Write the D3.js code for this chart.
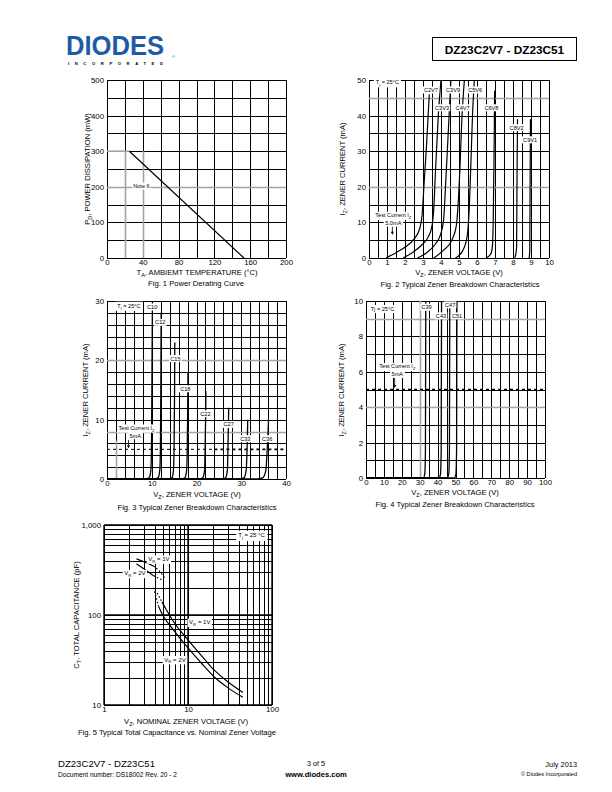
<!DOCTYPE html>
<html><head><meta charset="utf-8">
<script src="https://cdn.jsdelivr.net/npm/d3@7"></script>
<style>
body{margin:0;background:#fff}
svg{display:block}
text{font-family:"Liberation Sans",Arial,Helvetica,sans-serif;fill:#000}
</style>
</head><body>
<svg id="c" width="612" height="792"></svg>
<script>
// ---------------- DATA ----------------
// Fig 1
const fig1TempTicks = [0, 40, 80, 120, 160, 200];
const fig1PowerTicks = [0, 100, 200, 300, 400, 500];
const fig1FlatTemp = [0, 25];
const fig1FlatPower = [300, 300];
const fig1DerateTemp = [25, 153];
const fig1DeratePower = [300, 0];

// Fig 2
const fig2VTicks = [0,1,2,3,4,5,6,7,8,9,10];
const fig2ITicks = [0,10,20,30,40,50];
const fig2Names = ['C2V7','C3V3','C3V9','C4V7','C5V6','C6V8','C8V2','C9V1'];
const fig2Voltage = [
  [0.95, 1.5, 2.0, 2.5, 2.8, 2.95, 3.05, 3.2, 3.35],
  [1.9, 2.4, 2.9, 3.3, 3.5, 3.6, 3.7, 3.85, 4.0],
  [2.7, 3.2, 3.7, 4.0, 4.15, 4.25, 4.4, 4.55],
  [3.6, 4.1, 4.6, 4.85, 4.95, 5.05, 5.15, 5.3],
  [4.8, 5.2, 5.45, 5.55, 5.65, 5.75, 5.85],
  [6.5, 6.75, 6.85, 6.9, 6.95, 6.98],
  [8.1, 8.15, 8.2, 8.22, 8.25],
  [8.9, 8.93, 8.95, 8.97]
];
const fig2Current = [
  [0, 1.5, 3, 5.3, 8, 12, 20, 32, 46],
  [0, 1.5, 3.5, 6, 9, 14, 25, 40, 50],
  [0, 1.5, 4, 7, 11, 20, 35, 50],
  [0, 2, 5, 9, 15, 25, 38, 50],
  [0, 2, 6, 12, 25, 40, 50],
  [0, 1, 3, 10, 30, 47],
  [0, 1, 3, 20, 39],
  [0, 2, 20, 39]
];
const fig2LabelV = [3.44, 4.06, 4.67, 5.2, 5.9, 6.8, 8.2, 8.95];
const fig2LabelI = [47.2, 42.2, 47.2, 42.2, 47.2, 42.2, 36.6, 33.2];

// Fig 3
const fig3VTicks = [0, 10, 20, 30, 40];
const fig3ITicks = [0, 10, 20, 30];
const fig3Names = ['C10','C12','C15','C18','C22','C27','C33','C36'];
const fig3Voltage = [
  [0, 8.6, 9.4, 9.8, 9.95, 10.05, 10.15],
  [0, 10.6, 11.4, 11.8, 11.95, 12.05, 12.1],
  [0, 13.7, 14.5, 14.85, 15.0, 15.1, 15.15],
  [0, 16.6, 17.4, 17.8, 17.95, 18.05, 18.1],
  [0, 20.6, 21.4, 21.8, 21.95, 22.05, 22.1],
  [0, 25.7, 26.5, 26.9, 27.05, 27.15, 27.2],
  [0, 29.6, 30.6, 31.1, 31.3, 31.4, 31.45],
  [0, 33.6, 34.8, 35.5, 35.8, 36.0, 36.1]
];
const fig3Current = [
  [0, 0, 0.2, 1.5, 6, 18, 30],
  [0, 0, 0.2, 1.5, 6, 18, 28],
  [0, 0, 0.2, 1.5, 6, 15, 23],
  [0, 0, 0.2, 1.5, 6, 13, 18],
  [0, 0, 0.2, 1.5, 6, 11, 14.8],
  [0, 0, 0.2, 1.5, 6, 10, 12],
  [0, 0, 0.2, 1.5, 5, 8, 10],
  [0, 0, 0.2, 1.5, 5, 8, 10]
];
const fig3LabelV = [10.1, 11.9, 15.3, 17.5, 22.0, 27.2, 30.9, 35.8];
const fig3LabelI = [29.0, 26.4, 20.3, 15.2, 11.0, 9.2, 6.8, 6.8];

// Fig 4
const fig4VTicks = [0,10,20,30,40,50,60,70,80,90,100];
const fig4ITicks = [0,2,4,6,8,10];
const fig4Names = ['C39','C43','C47','C51'];
const fig4Voltage = [
  [0, 32.0, 32.8, 33.2, 33.4],
  [0, 40.8, 41.6, 42.0, 42.2],
  [0, 45.4, 46.2, 46.6, 46.8],
  [0, 49.4, 50.2, 50.6, 50.8]
];
const fig4Current = [
  [0, 0, 0.2, 1.5, 10],
  [0, 0, 0.2, 1.5, 10],
  [0, 0, 0.2, 1.5, 10],
  [0, 0, 0.2, 1.5, 10]
];
const fig4LabelV = [33.8, 41.9, 47.0, 50.9];
const fig4LabelI = [9.65, 9.16, 9.78, 9.16];

// Fig 5
const fig5VTicks = [1, 10, 100];
const fig5CTicks = [10, 100, 1000];
const fig5CTickLabels = ['10', '100', '1,000'];
const fig5V1UpperSolidV = [2.44, 3.0, 3.9];
const fig5V1UpperSolidC = [420, 390, 349];
const fig5V1UpperDotV = [3.9, 4.6, 5.4];
const fig5V1UpperDotC = [349, 305, 250];
const fig5V2UpperSolidV = [2.44, 3.0, 3.9];
const fig5V2UpperSolidC = [370, 325, 273];
const fig5V2UpperDotV = [3.9, 4.5, 5.1];
const fig5V2UpperDotC = [273, 255, 242];
const fig5V1LowerDotV = [4.3, 4.9];
const fig5V1LowerDotC = [175, 140];
const fig5V2LowerDotV = [3.9, 4.45];
const fig5V2LowerDotC = [200, 125];
const fig5V1LowerV = [4.9, 5.5, 7, 10, 15, 20, 30, 45];
const fig5V1LowerC = [140, 115, 80, 53, 34, 25, 18, 13.8];
const fig5V2LowerV = [4.45, 5, 7, 10, 15, 20, 30, 45];
const fig5V2LowerC = [125, 100, 65, 43, 28, 21, 15.5, 12.2];

// ---------------- DRAWING ----------------
const svg = d3.select('#c');
const GRAY = '#a3a3a3';
const BLUE = '#1d5ba6';

function rich(sel, parts, fs) {
  let wasSub = false;
  parts.forEach(p => {
    const t = typeof p === 'string' ? p : p.s;
    const sub = typeof p !== 'string';
    const ts = sel.append('tspan').text(t);
    if (sub) { ts.attr('font-size', fs * 0.72).attr('dy', fs * 0.3); wasSub = true; }
    else if (wasSub) { ts.attr('dy', -fs * 0.3); wasSub = false; }
  });
  return sel;
}
function txt(x, y, parts, fs, anchor, weight) {
  const t = svg.append('text').attr('x', x).attr('y', y).attr('font-size', fs)
    .attr('text-anchor', anchor || 'middle').attr('font-weight', weight || 'normal');
  rich(t, Array.isArray(parts) ? parts : [parts], fs);
  return t;
}
function boxed(g, x, y, parts, fs, padX, padY) {
  const t = g.append('text').attr('x', x).attr('y', y).attr('font-size', fs)
    .attr('text-anchor', 'middle').attr('dominant-baseline', 'central');
  rich(t, Array.isArray(parts) ? parts : [parts], fs);
  const bb = t.node().getBBox();
  g.insert('rect', () => t.node())
    .attr('x', bb.x - (padX ?? 1.5)).attr('y', bb.y - (padY ?? 0.5))
    .attr('width', bb.width + 2 * (padX ?? 1.5)).attr('height', bb.height + 2 * (padY ?? 0.5))
    .attr('fill', '#fff');
  return t;
}
function rangeStep(a, b, s) { return d3.range(a, b + s / 2, s); }

function chart(box, xs, ys, gx, gy) {
  const g = svg.append('g');
  g.selectAll(null).data(gx).join('line')
    .attr('x1', d => Math.round(xs(d)) + 0.5).attr('x2', d => Math.round(xs(d)) + 0.5)
    .attr('y1', box.t).attr('y2', box.b).attr('stroke', '#000').attr('stroke-width', 1);
  g.selectAll(null).data(gy).join('line')
    .attr('y1', d => Math.round(ys(d)) + 0.5).attr('y2', d => Math.round(ys(d)) + 0.5)
    .attr('x1', box.l).attr('x2', box.r).attr('stroke', '#000').attr('stroke-width', 1);
  return g;
}
function grayH(g, xs, ys, vals, x0, x1) {
  g.selectAll(null).data(vals).join('line')
    .attr('y1', d => Math.round(ys(d)) + 0.5).attr('y2', d => Math.round(ys(d)) + 0.5)
    .attr('x1', xs(x0)).attr('x2', xs(x1)).attr('stroke', GRAY).attr('stroke-width', 1.6);
}
function grayV(g, xs, ys, vals, y0, y1) {
  g.selectAll(null).data(vals).join('line')
    .attr('x1', d => Math.round(xs(d)) + 0.5).attr('x2', d => Math.round(xs(d)) + 0.5)
    .attr('y1', ys(y0)).attr('y2', ys(y1)).attr('stroke', GRAY).attr('stroke-width', 1.6);
}
function tickLabels(box, xs, ys, xt, yt, xfmt, yfmt, fs) {
  const ax = svg.append('g').attr('transform', `translate(0,${box.b})`)
    .call(d3.axisBottom(xs).tickValues(xt).tickSize(0).tickPadding(1.5).tickFormat(xfmt || (d => d)));
  ax.select('.domain').remove();
  ax.selectAll('text').attr('font-size', fs).attr('font-family', null).attr('fill', '#000');
  const ay = svg.append('g').attr('transform', `translate(${box.l},0)`)
    .call(d3.axisLeft(ys).tickValues(yt).tickSize(0).tickPadding(3).tickFormat(yfmt || (d => d)));
  ay.select('.domain').remove();
  ay.selectAll('text').attr('font-size', fs).attr('font-family', null).attr('fill', '#000');
}
function yTitle(x, yc, parts, fs) {
  const t = svg.append('text').attr('transform', `translate(${x},${yc}) rotate(-90)`)
    .attr('font-size', fs).attr('text-anchor', 'middle');
  rich(t, parts, fs);
}
function arrowDown(g, x, y0, y1) {
  g.append('line').attr('x1', x).attr('x2', x).attr('y1', y0).attr('y2', y1 - 2.5).attr('stroke', '#000').attr('stroke-width', 0.8);
  g.append('path').attr('d', `M${x - 1.6},${y1 - 3} L${x + 1.6},${y1 - 3} L${x},${y1} Z`).attr('fill', '#000');
}
function lineGen(xs, ys, curve) {
  return d3.line().x(d => xs(d[0])).y(d => ys(d[1])).curve(curve || d3.curveLinear);
}
const FS = 7.8;

// ---------- Header ----------
svg.append('text').attr('x', 66).attr('y', 55).attr('font-size', 28).attr('font-weight', 900)
  .style('fill', BLUE).attr('textLength', 98).attr('lengthAdjust', 'spacingAndGlyphs')
  .text('DIODES');
svg.append('text').attr('x', 68).attr('y', 65).attr('font-size', 4.2).attr('font-weight', 'bold')
  .attr('textLength', 95).attr('lengthAdjust', 'spacing').text('INCORPORATED');
svg.append('text').attr('x', 172).attr('y', 58).attr('font-size', 4).style('fill', BLUE).text('®');
svg.append('rect').attr('x', 432.5).attr('y', 37.5).attr('width', 144).attr('height', 23)
  .attr('fill', 'none').attr('stroke', '#000').attr('stroke-width', 1);
txt(504.5, 53.5, 'DZ23C2V7 - DZ23C51', 11.8, 'middle', 'bold');

// ---------- Fig 1 ----------
{
  const box = {l: 107, r: 286, t: 80, b: 258};
  const xs = d3.scaleLinear().domain([0, 200]).range([box.l, box.r]);
  const ys = d3.scaleLinear().domain([0, 500]).range([box.b, box.t]);
  const g = chart(box, xs, ys, rangeStep(0, 200, 20), rangeStep(0, 500, 50));
  grayV(g, xs, ys, [20, 40], 0, 300);
  grayH(g, xs, ys, [200], 0, 200);
  g.append('path').datum(d3.zip(fig1FlatTemp, fig1FlatPower)).attr('d', lineGen(xs, ys))
    .attr('stroke', GRAY).attr('stroke-width', 1.6).attr('fill', 'none');
  g.append('path').datum(d3.zip(fig1DerateTemp, fig1DeratePower)).attr('d', lineGen(xs, ys))
    .attr('stroke', '#000').attr('stroke-width', 1.2).attr('fill', 'none');
  boxed(g, xs(38.5), ys(202), 'Note 6', 5.5, 1, 0.5);
  tickLabels(box, xs, ys, fig1TempTicks, fig1PowerTicks, null, null, FS);
  txt(197, 274.5, ['T', {s: 'A'}, ', AMBIEMT TEMPERATURE (°C)'], 7.6);
  txt(196, 286, 'Fig. 1  Power Derating Curve', 7.6);
  yTitle(90, 169, ['P', {s: 'D'}, ', POWER DISSIPATION (mW)'], 7.6);
}

// ---------- Fig 2 ----------
{
  const box = {l: 369, r: 549, t: 80, b: 258};
  const xs = d3.scaleLinear().domain([0, 10]).range([box.l, box.r]);
  const ys = d3.scaleLinear().domain([0, 50]).range([box.b, box.t]);
  const g = chart(box, xs, ys, rangeStep(0, 10, 0.5), rangeStep(0, 50, 5));
  grayH(g, xs, ys, [45, 20], 0, 10);
  fig2Names.forEach((n, i) => {
    g.append('path').datum(d3.zip(fig2Voltage[i], fig2Current[i]))
      .attr('d', lineGen(xs, ys, d3.curveMonotoneX)).attr('stroke', '#000').attr('stroke-width', 1.2).attr('fill', 'none');
  });
  fig2Names.forEach((n, i) => boxed(g, xs(fig2LabelV[i]), ys(fig2LabelI[i]), n, 5.6, 1.2, 0.5));
  boxed(g, xs(1.02), ys(49.4), ['T', {s: 'j'}, ' = 25°C'], 5.6, 2, 1);
  boxed(g, xs(1.35), ys(12.0), ['Test Current I', {s: 'Z'}], 5.6, 1.5, 0.5);
  boxed(g, xs(1.35), ys(9.8), '5.0mA', 5.6, 1.5, 0.5);
  arrowDown(g, xs(1.3), ys(8.8), ys(6.5));
  tickLabels(box, xs, ys, fig2VTicks, fig2ITicks, null, null, FS);
  txt(459, 274.5, ['V', {s: 'Z'}, ', ZENER VOLTAGE (V)'], 7.6);
  txt(460, 287, 'Fig. 2  Typical Zener Breakdown Characteristics', 7.6);
  yTitle(345, 169, ['I', {s: 'Z'}, ', ZENER CURRENT (mA)'], 7.6);
}

// ---------- Fig 3 ----------
{
  const box = {l: 107, r: 286, t: 301, b: 479};
  const xs = d3.scaleLinear().domain([0, 40]).range([box.l, box.r]);
  const ys = d3.scaleLinear().domain([0, 30]).range([box.b, box.t]);
  const g = chart(box, xs, ys, rangeStep(0, 40, 2), rangeStep(0, 30, 2));
  grayH(g, xs, ys, [20, 8], 0, 40);
  grayV(g, xs, ys, [2], 0, 6.5);
  g.append('line').attr('x1', xs(0)).attr('x2', xs(24)).attr('y1', ys(5)).attr('y2', ys(5))
    .attr('stroke', '#000').attr('stroke-width', 1).attr('stroke-dasharray', '3,3');
  g.append('line').attr('x1', xs(24)).attr('x2', xs(40)).attr('y1', ys(5)).attr('y2', ys(5))
    .attr('stroke', '#000').attr('stroke-width', 1.8).attr('stroke-dasharray', '3,3');
  fig3Names.forEach((n, i) => {
    g.append('path').datum(d3.zip(fig3Voltage[i], fig3Current[i]))
      .attr('d', lineGen(xs, ys, d3.curveMonotoneX)).attr('stroke', '#000').attr('stroke-width', 1.3).attr('fill', 'none');
  });
  fig3Names.forEach((n, i) => boxed(g, xs(fig3LabelV[i]), ys(fig3LabelI[i]), n, 5.6, 1.2, 0.5));
  boxed(g, xs(4.9), ys(29.2), ['T', {s: 'j'}, ' = 25°C'], 5.6, 2, 1);
  boxed(g, xs(6.6), ys(8.6), ['Test Current I', {s: 'Z'}], 5.6, 1.5, 0.5);
  boxed(g, xs(6.3), ys(7.3), '5mA', 5.6, 1.5, 0.5);
  arrowDown(g, xs(4.8), ys(6.6), ys(5.2));
  tickLabels(box, xs, ys, fig3VTicks, fig3ITicks, null, null, FS);
  txt(197, 497, ['V', {s: 'Z'}, ', ZENER VOLTAGE (V)'], 7.6);
  txt(197, 510, 'Fig. 3  Typical Zener Breakdown Characteristics', 7.6);
  yTitle(88, 390, ['I', {s: 'Z'}, ', ZENER CURRENT (mA)'], 7.6);
}

// ---------- Fig 4 ----------
{
  const box = {l: 366, r: 545, t: 301, b: 478};
  const xs = d3.scaleLinear().domain([0, 100]).range([box.l, box.r]);
  const ys = d3.scaleLinear().domain([0, 10]).range([box.b, box.t]);
  const g = chart(box, xs, ys, rangeStep(0, 100, 5), rangeStep(0, 10, 1));
  grayH(g, xs, ys, [9, 4], 0, 100);
  grayV(g, xs, ys, [30], 0, 10);
  g.append('line').attr('x1', xs(0)).attr('x2', xs(100)).attr('y1', ys(5)).attr('y2', ys(5))
    .attr('stroke', '#000').attr('stroke-width', 1.4).attr('stroke-dasharray', '3,3');
  fig4Names.forEach((n, i) => {
    g.append('path').datum(d3.zip(fig4Voltage[i], fig4Current[i]))
      .attr('d', lineGen(xs, ys, d3.curveMonotoneX)).attr('stroke', '#000').attr('stroke-width', 1.3).attr('fill', 'none');
  });
  fig4Names.forEach((n, i) => boxed(g, xs(fig4LabelV[i]), ys(fig4LabelI[i]), n, 5.6, 1.2, 0.5));
  boxed(g, xs(9.2), ys(9.55), 'Tj = 25°C', 5.6, 2, 1);
  boxed(g, xs(17.5), ys(6.3), ['Test Current I', {s: 'Z'}], 5.6, 1.5, 0.5);
  boxed(g, xs(17.5), ys(5.85), '5mA', 5.6, 1.5, 0.5);
  arrowDown(g, xs(16), ys(5.65), ys(5.08));
  tickLabels(box, xs, ys, fig4VTicks, fig4ITicks, null, null, FS);
  txt(455, 495, ['V', {s: 'Z'}, ', ZENER VOLTAGE (V)'], 7.6);
  txt(455, 507, 'Fig. 4  Typical Zener Breakdown Characteristics', 7.6);
  yTitle(344, 390, ['I', {s: 'Z'}, ', ZENER CURRENT (mA)'], 7.6);
}

// ---------- Fig 5 ----------
{
  const box = {l: 104, r: 272, t: 525, b: 705};
  const xs = d3.scaleLog().domain([1, 100]).range([box.l, box.r]);
  const ys = d3.scaleLog().domain([10, 1000]).range([box.b, box.t]);
  const gxv = rangeStep(1, 9, 1).concat(rangeStep(10, 100, 10));
  const gyv = rangeStep(10, 90, 10).concat(rangeStep(100, 1000, 100));
  const g = chart(box, xs, ys, gxv, gyv);
  g.selectAll(null).data([1, 10, 100]).join('line')
    .attr('x1', d => xs(d)).attr('x2', d => xs(d)).attr('y1', box.t).attr('y2', box.b).attr('stroke', '#000').attr('stroke-width', 1.4);
  g.selectAll(null).data([10, 100, 1000]).join('line')
    .attr('y1', d => ys(d)).attr('y2', d => ys(d)).attr('x1', box.l).attr('x2', box.r).attr('stroke', '#000').attr('stroke-width', 1.4);
  const solid = (vx, vy) => g.append('path').datum(d3.zip(vx, vy)).attr('d', lineGen(xs, ys, d3.curveMonotoneX))
    .attr('stroke', '#000').attr('stroke-width', 1.2).attr('fill', 'none');
  const dotted = (vx, vy) => g.append('path').datum(d3.zip(vx, vy)).attr('d', lineGen(xs, ys, d3.curveMonotoneX))
    .attr('stroke', '#000').attr('stroke-width', 1.3).attr('stroke-dasharray', '1.4,2.2').attr('fill', 'none');
  solid(fig5V1UpperSolidV, fig5V1UpperSolidC);
  dotted(fig5V1UpperDotV, fig5V1UpperDotC);
  solid(fig5V2UpperSolidV, fig5V2UpperSolidC);
  dotted(fig5V2UpperDotV, fig5V2UpperDotC);
  dotted(fig5V1LowerDotV, fig5V1LowerDotC);
  dotted(fig5V2LowerDotV, fig5V2LowerDotC);
  solid(fig5V1LowerV, fig5V1LowerC);
  solid(fig5V2LowerV, fig5V2LowerC);
  boxed(g, xs(4.5), ys(419), ['V', {s: 'R'}, ' = 1V'], 6, 1.5, 0.5);
  boxed(g, xs(2.33), ys(290), ['V', {s: 'R'}, ' = 2V'], 6, 1.5, 0.5);
  boxed(g, xs(13.8), ys(83), ['V', {s: 'R'}, ' = 1V'], 6, 1.5, 0.5);
  boxed(g, xs(7.0), ys(32), ['V', {s: 'R'}, ' = 2V'], 6, 1.5, 0.5);
  boxed(g, xs(57), ys(770), ['T', {s: 'j'}, ' = 25 °C'], 6, 2, 1.5);
  tickLabels(box, xs, ys, fig5VTicks, fig5CTicks, d => d, (d, i) => fig5CTickLabels[i], FS);
  txt(186, 724, ['V', {s: 'Z'}, ', NOMINAL ZENER VOLTAGE (V)'], 7.6);
  txt(177, 735, 'Fig. 5  Typical Total Capacitance vs. Nominal Zener Voltage', 7.6);
  yTitle(79, 615, ['C', {s: 'T'}, ', TOTAL CAPACITANCE (pF)'], 7.6);
}

// ---------- Footer ----------
txt(58, 767, 'DZ23C2V7 - DZ23C51', 9.6, 'start');
txt(58, 777, 'Document number: DS18002 Rev. 20 - 2', 6.6, 'start');
txt(316, 766, '3 of 5', 7.2, 'middle');
txt(316, 777, 'www.diodes.com', 7.6, 'middle', 'bold');
txt(577, 767, 'July 2013', 7.4, 'end');
txt(577, 776, '© Diodes Incorporated', 5.6, 'end');
</script>
</body></html>
